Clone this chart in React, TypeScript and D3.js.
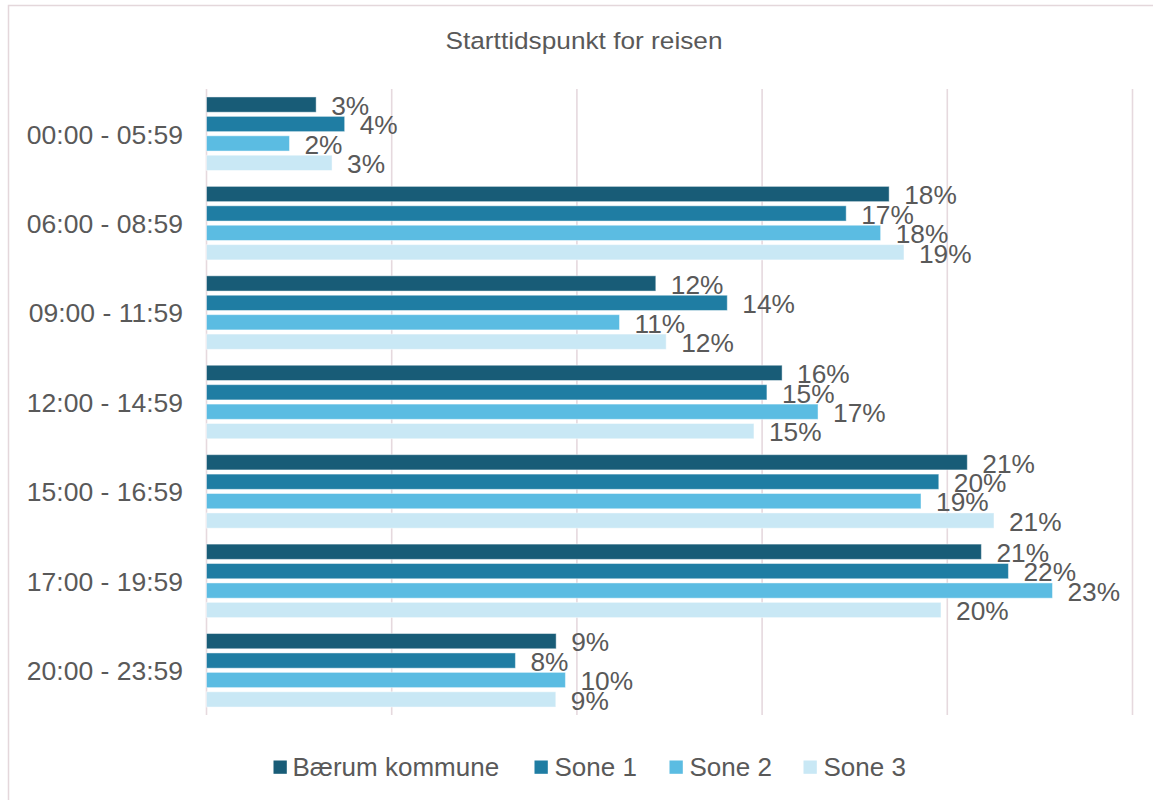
import React from "react";
import * as d3 from "d3";

const title = "Starttidspunkt for reisen";
const categories = [
  "00:00 - 05:59",
  "06:00 - 08:59",
  "09:00 - 11:59",
  "12:00 - 14:59",
  "15:00 - 16:59",
  "17:00 - 19:59",
  "20:00 - 23:59",
];
const seriesNames = ["Bærum kommune", "Sone 1", "Sone 2", "Sone 3"];
const baerum = [2.96, 18.43, 12.13, 15.54, 20.54, 20.92, 9.44];
const sone1 = [3.73, 17.27, 14.06, 15.13, 19.77, 21.65, 8.34];
const sone2 = [2.24, 18.2, 11.15, 16.51, 19.29, 22.84, 9.69];
const sone3 = [3.39, 18.83, 12.41, 14.78, 21.26, 19.83, 9.43];
const seriesValues = [baerum, sone1, sone2, sone3];
const colors = ["#185C77", "#1F7DA3", "#5BBCE2", "#C9E8F5"];
const xTicks = [0, 5, 10, 15, 20, 25];

const W = 1153;
const H = 800;
const FONT = "'Liberation Sans', Arial, sans-serif";
const TEXT = "#595959";
const GRID = "#E6D9DE";

export default function App() {
  const x = d3.scaleLinear().domain([0, 25]).range([206.5, 1132.5]);
  const y0 = d3
    .scaleBand<string>()
    .domain(categories)
    .range([89, 715])
    .paddingInner(0.178)
    .paddingOuter(0.089);
  const y1 = d3
    .scaleBand<string>()
    .domain(seriesNames)
    .range([0, y0.bandwidth()])
    .paddingInner(0.215)
    .paddingOuter(0);

  const legendSquares = [273.5, 534.5, 669.5, 803.5];
  const legendText = [292.5, 554.5, 689.5, 823.5];

  return (
    <svg
      width={W}
      height={H}
      style={{ position: "absolute", left: 0, top: 0, background: "#fff" }}
      fontFamily={FONT}
    >
      <rect x={8.5} y={5.5} width={1170} height={820} fill="#fff" stroke="#E4D7DB" strokeWidth={1.5} />
      <text
        x={584}
        y={49}
        textAnchor="middle"
        fontSize={24.5}
        fill={TEXT}
        textLength={277}
        lengthAdjust="spacingAndGlyphs"
      >
        {title}
      </text>
      {xTicks.map((t) => (
        <line key={t} x1={x(t)} x2={x(t)} y1={89} y2={715} stroke={GRID} strokeWidth={1.6} />
      ))}
      {categories.map((c, ci) => (
        <g key={c} transform={`translate(0,${y0(c)})`}>
          <text
            x={183}
            y={y0.bandwidth() / 2 + 9.8}
            textAnchor="end"
            fontSize={26.5}
            fill={TEXT}
          >
            {c}
          </text>
          {seriesNames.map((s, si) => {
            const v = seriesValues[si][ci];
            const by = y1(s)!;
            const bh = y1.bandwidth();
            return (
              <g key={s}>
                <rect
                  x={x(0)}
                  y={by}
                  width={x(v) - x(0)}
                  height={bh}
                  fill={colors[si]}
                  stroke="#ffffff"
                  strokeOpacity={0.45}
                  strokeWidth={1}
                />
                <text x={x(v) + 15} y={by + bh / 2 + 10.3} fontSize={26.3} fill={TEXT}>
                  {Math.round(v)}%
                </text>
              </g>
            );
          })}
        </g>
      ))}
      {seriesNames.map((s, i) => (
        <g key={s}>
          <rect x={legendSquares[i]} y={760.5} width={13.3} height={13.3} fill={colors[i]} />
          <text x={legendText[i]} y={775.5} fontSize={26} fill={TEXT}>
            {s}
          </text>
        </g>
      ))}
    </svg>
  );
}
